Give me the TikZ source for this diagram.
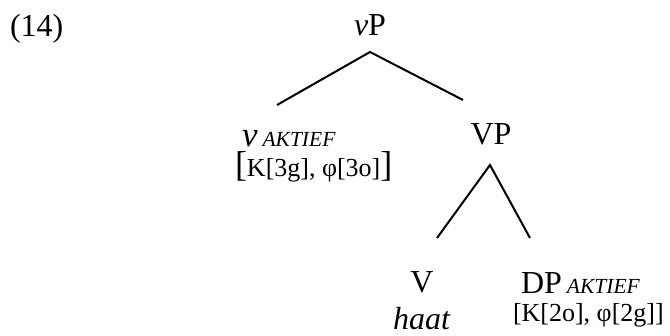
\documentclass[tikz,border=0pt]{standalone}
\usepackage{fontspec}
\setmainfont{Liberation Serif}
\newcommand{\mainsz}{\fontsize{32}{38}\selectfont}
\newcommand{\featsz}{\fontsize{26}{31}\selectfont}
\newcommand{\bigbr}[1]{{\fontsize{36}{40}\selectfont #1}}
\newcommand{\aktief}{{\fontsize{21.5}{24}\selectfont\itshape AKTIEF}}
\begin{document}
\begin{tikzpicture}[x=1pt,y=-1pt,
  lbl/.style={inner sep=0pt, outer sep=0pt, font=\mainsz},
  feat/.style={inner sep=0pt, outer sep=0pt, font=\featsz},
  branch/.style={line width=2pt}]
\useasboundingbox (0,0) rectangle (670,336);
\node[lbl, anchor=base west] (ex) at (10,37) {(14)};
\node[lbl, anchor=base] (vP) at (370,36) {\textit{v}P};
\node[lbl, anchor=base west] (vhead) at (242,147) {{\fontsize{35}{40}\selectfont\textit{v}}\hspace{5pt}\aktief};
\node[feat, anchor=base west] (feat1) at (235,177) {\bigbr{[}K[3g], φ[3o]\bigbr{]}};
\node[lbl, anchor=base] (VP) at (491,145) {VP};
\node[lbl, anchor=base] (V) at (422,293) {V};
\node[lbl, anchor=base] (haat) at (422,330) {\textit{haat}};
\node[lbl, anchor=base west] (DP) at (521,294) {DP\hspace{5pt}\aktief};
\node[feat, anchor=base west] (feat2) at (513,322) {[K[2o], φ[2g]]};
\coordinate (vP-top) at (370,52);
\coordinate (vhead-top) at (277,105);
\coordinate (VP-up) at (463,100);
\coordinate (VP-top) at (490,165);
\coordinate (V-top) at (437,238);
\coordinate (DP-top) at (530,238);
\draw[branch] (vhead-top) -- (vP-top) -- (VP-up);
\draw[branch] (V-top) -- (VP-top) -- (DP-top);
\end{tikzpicture}
\end{document}
